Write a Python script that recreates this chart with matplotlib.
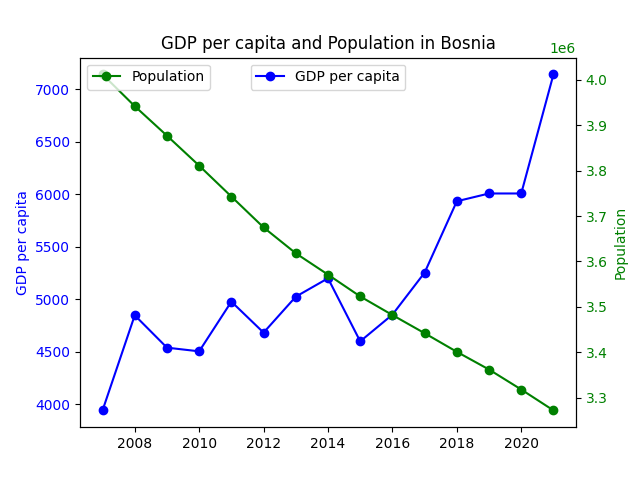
import matplotlib
matplotlib.use('Agg')
import matplotlib.pyplot as plt

# Dati
anni = [2007, 2008, 2009, 2010, 2011, 2012, 2013, 2014, 2015, 2016, 2017, 2018, 2019, 2020, 2021]
pil_pro_capite = [3943, 4848, 4540, 4505, 4978, 4683, 5025, 5200, 4600, 4854, 5254, 5933, 6007, 6007, 7140]
popolazione = [4.012e6, 3.942e6, 3.877e6, 3.811e6, 3.743e6, 3.675e6, 3.618e6, 3.571e6,
               3.523e6, 3.482e6, 3.442e6, 3.401e6, 3.362e6, 3.318e6, 3.272e6]

fig, ax1 = plt.subplots(figsize=(6.4, 4.8), dpi=100)

ax1.plot(anni, pil_pro_capite, color='blue', marker='o', label='GDP per capita')
ax1.set_ylabel('GDP per capita', color='blue')
ax1.tick_params(axis='y', labelcolor='blue')

ax2 = ax1.twinx()
ax2.plot(anni, popolazione, color='green', marker='o', label='Population')
ax2.set_ylabel('Population', color='green')
ax2.tick_params(axis='y', labelcolor='green')
ax2.yaxis.get_offset_text().set_color('green')

ax1.legend(loc='upper center')
ax2.legend(loc='upper left')

plt.title('GDP per capita and Population in Bosnia')
plt.savefig('out.png')
